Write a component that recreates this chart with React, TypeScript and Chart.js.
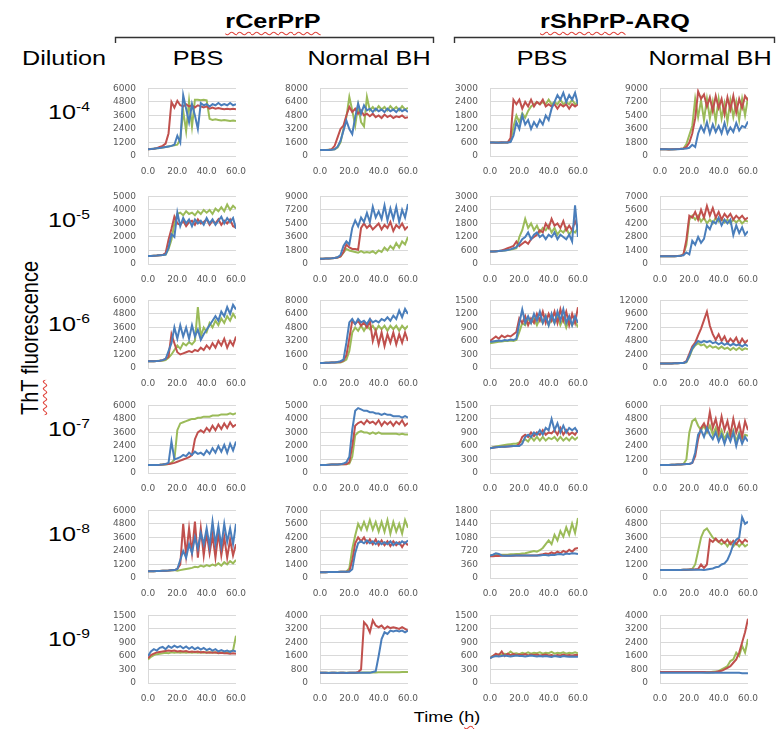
import React, { useEffect, useRef } from "react";
import { Chart, registerables } from "chart.js";
Chart.register(...registerables);

// ---------------- data ----------------
const times = [0, 2, 4, 6, 8, 10, 12, 14, 16, 18, 20, 22, 24, 26, 28, 30, 32, 34, 36, 38, 40, 42, 44, 46, 48, 50, 52, 54, 56, 58, 60];
const xTicks = [0, 20, 40, 60];
const proteins = ["rCerPrP", "rShPrP-ARQ"];
const treatments = ["PBS", "Normal BH", "PBS", "Normal BH"];
const dilutionExponents = ["-4", "-5", "-6", "-7", "-8", "-9"];
const yAxisTitle = "ThT fluorescence";
const xAxisTitle = "Time (h)";

// y-axis maxima (ticks every max/5), per dilution row, columns: CerPBS, CerBH, ShPBS, ShBH
const yMaxRow4 = [6000, 8000, 3000, 9000];
const yMaxRow5 = [5000, 9000, 3000, 7000];
const yMaxRow6 = [6000, 8000, 1500, 12000];
const yMaxRow7 = [6000, 5000, 1500, 6000];
const yMaxRow8 = [6000, 7000, 1800, 6000];
const yMaxRow9 = [1500, 4000, 1500, 4000];

// 10^-4
const r1c1Blue = [600,620,650,680,700,750,800,850,900,1000,1800,1200,5400,4200,3000,4600,3600,2400,4700,4500,4600,4400,4600,4500,4700,4500,4600,4500,4700,4500,4600];
const r1c1Red = [600,620,650,700,800,900,1100,2000,4800,4300,4900,4500,4400,4600,4400,4500,4300,4500,4400,4300,4400,4200,4300,4200,4250,4200,4150,4200,4150,4200,4150];
const r1c1Green = [600,620,650,680,700,750,800,850,900,950,1000,1500,4000,2200,4900,2600,5000,5000,4950,5000,4950,3300,3200,3250,3200,3150,3200,3150,3100,3150,3100];
const r1c2Blue = [700,700,700,720,750,800,1100,1800,3000,4200,3200,2600,4600,6200,5000,6000,5400,5600,5200,5600,5300,5500,5200,5600,5300,5500,5200,5600,5300,5500,5200];
const r1c2Red = [700,700,720,750,800,1200,2200,3200,3600,4800,5800,5200,5600,5000,5400,4800,5000,4700,5000,4600,4800,4500,4900,4600,4800,4500,4700,4600,4800,4500,4600];
const r1c2Green = [700,700,720,740,760,800,1000,1600,3200,4600,7000,5400,3600,6000,4000,3500,7000,5400,5800,5400,5900,5500,5800,5400,5900,5500,5800,5400,5900,5500,5700];
const r1c3Blue = [600,600,600,590,600,600,600,620,900,1500,1200,1800,1400,1600,1200,1500,1300,1600,1400,1800,1600,2100,2400,2700,2500,2800,2400,2700,2500,2800,2300];
const r1c3Red = [600,600,590,600,610,600,600,800,2500,2300,2500,2100,2400,2200,2500,2200,2400,2300,2500,2200,2300,2200,2300,2100,2300,2200,2300,2100,2300,2200,2300];
const r1c3Green = [600,600,600,600,590,600,600,650,1300,1800,1500,1900,1700,2000,2200,2300,2400,2300,2400,2300,2500,2300,2400,2300,2500,2300,2400,2300,2500,2300,2400];
const r1c4Blue = [900,900,900,900,880,900,900,920,950,1000,1100,1500,1200,3000,4000,3200,4500,3000,4200,3200,4000,3000,4400,3000,3800,3200,4400,3400,4000,3800,4600];
const r1c4Red = [900,900,900,880,900,900,920,950,1000,1200,1800,3000,5000,8600,7600,8200,6600,7800,6000,8000,6400,7600,5600,7800,6200,8000,5800,7600,6400,8000,7400];
const r1c4Green = [900,900,900,880,900,900,920,950,1000,1600,2800,4000,7600,5200,7400,4800,7600,5000,7200,4600,7600,5000,7000,4600,7400,5200,7200,4800,7600,5400,7800];

// 10^-5
const r2c1Blue = [600,600,610,620,640,660,700,1200,2200,2000,3800,2800,3400,3000,3300,2800,3300,3000,3200,2900,3400,3000,3300,2900,3200,3500,3000,3400,3100,3400,2600];
const r2c1Red = [600,600,610,620,640,660,800,1800,2600,3500,3000,2900,3200,2800,3100,3200,2900,3300,3000,3100,3300,2900,3200,3000,3300,2900,3200,3000,3300,2800,2700];
const r2c1Green = [600,600,610,620,640,660,700,1100,1800,3000,3700,3800,3600,3900,3700,3800,3600,3900,3700,4000,3800,4000,3700,4100,3900,4200,3900,4400,4000,4300,4100];
const r2c2Blue = [700,700,720,740,760,800,900,1200,2400,3000,2600,4800,5800,5000,6200,5600,6800,5600,7600,6200,7000,6000,7800,5800,7400,6000,7600,5600,7200,6200,8000];
const r2c2Red = [700,700,720,740,760,800,850,1000,1600,2600,2200,2000,2000,1900,4800,5400,4800,5200,4600,5000,5400,4600,5200,4800,5600,4400,5200,4800,5400,4600,5000];
const r2c2Green = [700,700,720,740,760,800,850,1000,1500,2000,1800,1700,1600,1500,1700,1500,1600,1500,1700,1400,1800,1600,2200,1800,2400,2000,2800,2200,3000,2600,3600];
const r2c3Blue = [550,560,560,580,590,600,620,650,700,750,900,1100,1200,1400,1100,1300,1400,1200,1300,1100,1300,1200,1400,1100,1300,1200,1100,1300,1000,2600,1200];
const r2c3Red = [550,560,570,580,600,650,700,750,800,1000,800,900,1000,900,1100,1200,1300,1500,1400,1800,1600,2000,1700,1800,1600,1900,1500,1700,1500,1900,1600];
const r2c3Green = [550,560,570,580,590,600,620,640,660,700,1200,1500,2000,1600,1800,1500,1700,1400,1600,1500,1700,1400,1600,1300,1500,1400,1600,1300,1500,1400,1600];
const r2c4Blue = [800,800,800,790,800,810,820,850,900,1200,1000,2400,2000,2800,2200,2600,4000,3600,4400,4200,4800,4000,4600,4200,4600,3000,4000,3200,3800,3000,3400];
const r2c4Red = [800,800,800,790,800,810,820,850,1000,2500,5000,4800,5400,4600,5600,4800,6000,5000,5800,4800,5400,4600,5200,4800,5200,4600,5000,4700,5000,4600,4800];
const r2c4Green = [800,800,800,790,800,810,820,850,1000,2000,4600,5000,4600,5000,4400,4800,4200,4600,4200,4800,4400,4700,4300,4600,4200,4600,4300,4600,4200,4500,4400];

// 10^-6
const r3c1Blue = [600,600,610,620,640,700,800,1500,2200,3600,2600,3800,2800,3600,2600,3800,2800,3400,2500,3000,3400,3800,4200,4600,4200,5000,4600,5400,4800,5600,5200];
const r3c1Red = [600,600,610,620,640,700,800,1000,3000,2200,1400,1200,1300,1400,1500,1400,1600,1500,1800,1600,2000,1700,2200,1800,2400,2000,2600,1800,2400,2000,2800];
const r3c1Green = [600,600,610,620,640,650,700,900,1200,1600,2000,1700,2200,2000,2300,2100,2400,5400,2800,3600,3200,4000,3600,4200,3800,4400,4000,4600,4200,4800,4400];
const r3c2Blue = [600,600,610,620,640,660,700,800,1000,3000,5400,5800,5200,5800,5400,5600,5200,5800,5400,5600,5400,5800,5600,6000,5600,6200,5800,6800,6000,7000,6400];
const r3c2Red = [600,600,610,620,640,660,680,700,900,1500,3500,5600,5200,5600,5000,5400,4800,5600,3200,4400,2800,4200,2600,4000,3000,4200,2800,4000,3000,4200,3200];
const r3c2Green = [600,600,610,620,640,650,660,650,800,1000,2000,4200,4800,4400,5000,4400,5000,4600,5000,4400,5000,4600,5000,4400,5000,4600,5000,4400,5000,4600,5000];
const r3c3Blue = [580,590,600,610,600,620,610,630,620,650,1000,1300,1000,1150,1000,1200,1050,1250,1000,1150,950,1200,1000,1250,1050,1300,1000,1150,950,1150,1000];
const r3c3Red = [600,650,700,650,720,680,720,700,750,800,1100,1000,1150,950,1100,1000,1200,1050,1250,1000,1200,1050,1250,1000,1300,1050,1250,950,1200,1000,1350];
const r3c3Green = [550,560,570,580,590,600,600,610,600,620,800,1000,950,1100,1000,1100,950,1100,1000,1150,950,1100,1000,1150,950,1100,900,1100,950,1050,900];
const r3c4Blue = [800,800,800,810,820,830,850,870,900,1100,2200,3500,4200,4800,4500,4800,4600,4800,4400,4600,4200,4500,4100,4400,4000,4300,4000,4200,3800,4200,3900];
const r3c4Red = [800,800,800,810,820,830,850,870,900,1200,2500,3800,4500,5800,7000,8500,10000,7500,6000,5000,6000,4800,5600,4400,5200,4600,5400,4200,5200,4400,5000];
const r3c4Green = [800,800,800,810,820,830,850,870,900,1000,2000,3300,4000,4400,4000,4200,3600,4000,3600,3800,3400,3800,3400,3600,3200,3600,3200,3600,3200,3500,3300];

// 10^-7
const r4c1Blue = [700,700,710,720,730,750,800,900,2800,1200,1300,1400,1600,1500,1800,1600,1900,1700,1800,1600,2000,1700,2200,1800,2400,1900,2500,1800,2600,2000,2800];
const r4c1Red = [700,700,710,720,730,750,780,800,850,900,1000,1100,1200,1300,1400,1600,3000,3600,3800,3600,4000,3700,4200,3800,4300,3900,4400,4000,4500,4100,4300];
const r4c1Green = [700,700,710,720,730,750,750,800,900,1200,3800,4400,4500,4600,4700,4800,4800,4900,4900,5000,5000,5000,5100,5100,5100,5200,5200,5200,5300,5200,5300];
const r4c2Blue = [600,600,600,610,620,620,630,640,700,800,1200,3200,4600,4800,4700,4600,4600,4500,4500,4400,4400,4300,4400,4300,4300,4200,4200,4200,4100,4200,4100];
const r4c2Red = [600,600,600,610,620,620,630,640,650,650,800,2000,3500,3700,3800,3600,3900,3700,3800,3600,3900,3500,3800,3600,3800,3500,3800,3600,3900,3500,3700];
const r4c2Green = [600,600,600,610,620,620,630,640,650,660,700,1200,2800,3000,3100,3000,3000,2900,3000,2900,3000,2900,2900,2900,2900,2900,2900,2850,2900,2850,2850];
const r4c3Blue = [550,560,570,575,580,585,590,595,600,600,600,650,800,850,800,900,850,950,850,1000,950,1200,950,1100,900,1050,900,1000,950,1000,900];
const r4c3Red = [550,560,570,575,580,585,590,595,600,600,650,800,850,800,900,820,900,850,950,850,900,880,950,850,1000,850,950,850,900,850,950];
const r4c3Green = [550,570,590,600,610,620,630,640,650,650,680,700,750,700,800,720,800,720,800,720,780,750,800,720,800,720,780,720,800,740,800];
const r4c4Blue = [700,700,710,720,730,740,750,760,780,800,800,900,1800,3400,3800,3200,4000,3400,3000,3600,2800,3400,2600,3400,2800,3600,2400,3400,2600,3200,2800];
const r4c4Red = [700,700,710,720,730,740,750,760,780,800,800,900,1500,3000,4000,4400,3800,5400,4000,4800,3600,5000,3800,4600,3400,4800,3600,4400,3200,4600,3800];
const r4c4Green = [700,700,710,720,730,740,750,760,800,1200,3600,4600,4800,4200,3800,4200,3600,4200,3400,4000,3200,3800,3000,3600,3200,3800,2800,3600,3000,3400,3300];

// 10^-8
const r5c1Blue = [600,600,610,620,630,640,650,660,680,700,800,1600,2400,1800,3000,2200,3600,2600,4000,3000,4400,2800,5000,3000,4600,2800,4800,3200,4400,3000,4800];
const r5c1Red = [600,600,610,620,630,640,650,660,680,700,800,1200,4800,2000,4400,2200,5000,1800,4400,2000,4000,2200,3800,1800,4000,2000,3600,1800,3400,2000,3000];
const r5c1Green = [600,600,610,620,630,640,650,660,680,700,650,700,750,800,850,900,1000,950,1100,1000,1150,1050,1200,1100,1300,1100,1400,1200,1500,1300,1600];
const r5c2Blue = [600,600,600,610,620,620,630,640,650,650,650,900,2600,3600,3800,3600,3900,3600,3800,3500,3800,3500,3700,3500,3800,3400,3700,3500,3800,3600,3900];
const r5c2Red = [600,600,600,610,620,620,630,640,650,650,700,1800,3600,4200,3800,4200,3600,4000,3500,4000,3400,3900,3400,3800,3300,3800,3400,3700,3200,3700,3400];
const r5c2Green = [600,600,600,610,620,620,630,640,650,650,1000,3000,4400,5600,5000,5800,5000,6000,5000,5800,4800,5800,4800,6000,4600,5800,4800,5600,4600,6000,5200];
const r5c3Blue = [600,620,660,640,600,590,590,595,600,600,600,600,600,600,600,600,600,600,610,610,600,620,610,630,640,620,650,640,660,650,640];
const r5c3Red = [580,580,585,585,590,590,590,595,595,600,600,600,600,600,600,600,600,620,630,650,640,680,650,700,660,720,680,750,700,780,800];
const r5c3Green = [600,600,610,610,620,620,620,630,630,640,640,650,660,680,700,720,700,740,800,900,1000,900,1150,1000,1250,1100,1350,1150,1450,1200,1600];
const r5c4Blue = [700,700,700,700,710,710,720,720,730,730,730,730,730,730,730,700,750,800,850,950,1000,1200,1300,1600,2200,3000,3400,3600,5400,4800,5000];
const r5c4Red = [700,700,700,700,710,710,720,720,730,740,750,760,770,800,1200,900,1200,3400,3200,3500,3200,3400,3100,3400,3000,3300,3000,3400,3100,3400,3200];
const r5c4Green = [700,700,700,700,710,710,720,720,730,740,750,800,1200,2400,3600,4200,4400,4000,3600,3400,3200,3000,3200,2800,3200,2800,3100,2800,3100,2800,3000];

// 10^-9
const r6c1Blue = [600,700,750,720,780,800,750,820,780,830,790,820,770,810,760,800,750,790,740,780,730,760,720,750,700,730,700,720,690,720,700];
const r6c1Red = [550,620,650,680,690,700,710,720,710,720,700,710,700,710,690,700,690,700,680,690,670,680,670,680,660,670,660,660,650,660,650];
const r6c1Green = [520,580,620,640,650,660,670,660,680,670,680,670,680,670,680,670,680,670,680,670,680,670,680,670,680,670,680,670,700,720,1050];
const r6c2Blue = [600,600,600,590,600,600,590,600,600,590,600,600,600,600,600,600,600,600,650,700,1600,2600,3000,2900,3100,3050,3100,3050,3100,3000,3100];
const r6c2Red = [600,600,600,590,600,600,590,600,600,590,600,600,600,650,800,3600,3400,3000,3700,3400,3300,3400,3200,3350,3250,3300,3250,3200,3300,3200,3100];
const r6c2Green = [600,600,600,600,600,600,600,600,600,610,610,610,610,610,620,620,620,620,620,620,630,630,630,630,640,640,640,640,650,650,650];
const r6c3Blue = [550,580,600,590,600,610,600,590,600,610,600,600,590,600,610,600,590,600,590,600,590,580,600,590,580,600,590,580,590,580,580];
const r6c3Red = [550,600,650,620,700,600,650,620,640,620,630,620,640,610,630,620,630,610,620,630,610,620,600,620,610,630,610,620,610,620,620];
const r6c3Green = [550,600,620,640,630,650,640,700,650,660,640,670,650,680,650,670,660,680,650,670,660,690,650,670,660,680,650,670,660,680,660];
const r6c4Blue = [600,600,600,600,600,600,600,600,600,600,600,600,600,600,600,600,600,600,600,600,600,600,600,600,600,600,600,600,580,580,580];
const r6c4Red = [650,650,650,650,650,650,650,650,650,650,650,650,650,650,650,650,640,640,640,650,700,720,800,900,1000,1200,1400,1800,2400,3000,3800];
const r6c4Green = [650,650,650,650,650,650,650,650,650,650,650,650,650,650,650,640,640,640,660,680,700,800,900,1000,1300,1400,1800,1600,2200,1800,2600];

// tables built from the arrays above
const yMaxByRow = [yMaxRow4, yMaxRow5, yMaxRow6, yMaxRow7, yMaxRow8, yMaxRow9];
const panelSeries = [
  [[r1c1Blue, r1c1Red, r1c1Green], [r1c2Blue, r1c2Red, r1c2Green], [r1c3Blue, r1c3Red, r1c3Green], [r1c4Blue, r1c4Red, r1c4Green]],
  [[r2c1Blue, r2c1Red, r2c1Green], [r2c2Blue, r2c2Red, r2c2Green], [r2c3Blue, r2c3Red, r2c3Green], [r2c4Blue, r2c4Red, r2c4Green]],
  [[r3c1Blue, r3c1Red, r3c1Green], [r3c2Blue, r3c2Red, r3c2Green], [r3c3Blue, r3c3Red, r3c3Green], [r3c4Blue, r3c4Red, r3c4Green]],
  [[r4c1Blue, r4c1Red, r4c1Green], [r4c2Blue, r4c2Red, r4c2Green], [r4c3Blue, r4c3Red, r4c3Green], [r4c4Blue, r4c4Red, r4c4Green]],
  [[r5c1Blue, r5c1Red, r5c1Green], [r5c2Blue, r5c2Red, r5c2Green], [r5c3Blue, r5c3Red, r5c3Green], [r5c4Blue, r5c4Red, r5c4Green]],
  [[r6c1Blue, r6c1Red, r6c1Green], [r6c2Blue, r6c2Red, r6c2Green], [r6c3Blue, r6c3Red, r6c3Green], [r6c4Blue, r6c4Red, r6c4Green]],
];

// ---------------- layout & style ----------------
const SERIES_COLORS = ["#4A7EBB", "#C0504D", "#9BBB59"];
const GRID = "#D9D9D9";
const TICK_COLOR = "#595959";
const TICK_FONT = { family: "'DejaVu Sans', sans-serif", size: 9 };
const COL_LEFT = [148, 320, 490, 660];
const ROW_TOP = [79, 187, 291, 396, 501, 606];
const PLOT_W = 94;
const PLOT_H = 77;
const Y_AXIS_W = 40;
const PAD_TOP = 8;
const PAD_RIGHT = 14;
const X_AXIS_H = 24;
const TEXT_FONT = "'Liberation Sans', Arial, sans-serif";
const STRETCH = 1.2;
const SQUIGGLE: React.CSSProperties = {
  textDecorationLine: "underline",
  textDecorationStyle: "wavy",
  textDecorationColor: "#E0443C",
  textDecorationThickness: "1px",
  textUnderlineOffset: "3px",
};

function Panel({ row, col }: { row: number; col: number }) {
  const ref = useRef<HTMLCanvasElement>(null);
  const yMax = yMaxByRow[row][col];
  const series = panelSeries[row][col];
  const W = Y_AXIS_W + PLOT_W + PAD_RIGHT;
  const H = PAD_TOP + PLOT_H + X_AXIS_H;
  useEffect(() => {
    const chart = new Chart(ref.current as HTMLCanvasElement, {
      type: "line",
      data: {
        datasets: series.map((vals, k) => ({
          data: vals.map((v, i) => ({ x: times[i], y: v })),
          borderColor: SERIES_COLORS[k],
          backgroundColor: SERIES_COLORS[k],
          borderWidth: 2,
          pointRadius: 0,
          tension: 0,
          fill: false,
        })),
      },
      options: {
        responsive: false,
        animation: false,
        events: [],
        layout: { padding: { top: PAD_TOP, right: PAD_RIGHT, left: 0, bottom: 0 } },
        plugins: { legend: { display: false }, tooltip: { enabled: false }, title: { display: false } },
        scales: {
          x: {
            type: "linear",
            min: 0,
            max: 60,
            afterBuildTicks: (s: any) => {
              s.ticks = xTicks.map((v) => ({ value: v }));
            },
            afterFit: (s: any) => {
              s.height = X_AXIS_H;
            },
            grid: { display: false, drawTicks: false },
            border: { display: true, color: GRID, width: 1 },
            ticks: {
              maxRotation: 0,
              minRotation: 0,
              autoSkip: false,
              padding: 10,
              color: TICK_COLOR,
              font: TICK_FONT,
              callback: (v: any) => Number(v).toFixed(1),
            },
          },
          y: {
            type: "linear",
            min: 0,
            max: yMax,
            afterBuildTicks: (s: any) => {
              s.ticks = [0, 1, 2, 3, 4, 5].map((k) => ({ value: (yMax * k) / 5 }));
            },
            afterFit: (s: any) => {
              s.width = Y_AXIS_W;
            },
            grid: { color: GRID, lineWidth: 1, drawTicks: false },
            border: { display: true, color: GRID, width: 1 },
            ticks: {
              padding: 12,
              color: TICK_COLOR,
              font: TICK_FONT,
              autoSkip: false,
              callback: (v: any) => String(Math.round(Number(v))),
            },
          },
        },
      },
    } as any);
    return () => chart.destroy();
  }, []);
  return (
    <canvas
      ref={ref}
      width={W}
      height={H}
      style={{
        position: "absolute",
        left: COL_LEFT[col] - Y_AXIS_W,
        top: ROW_TOP[row] - PAD_TOP,
        width: W,
        height: H,
      }}
    />
  );
}

function Txt({
  x,
  baseline,
  size,
  bold,
  children,
}: {
  x: number;
  baseline: number;
  size: number;
  bold?: boolean;
  children: React.ReactNode;
}) {
  return (
    <div
      style={{
        position: "absolute",
        left: x,
        top: baseline - 0.8465 * size,
        fontFamily: TEXT_FONT,
        fontSize: size,
        lineHeight: `${size}px`,
        fontWeight: bold ? 700 : 400,
        whiteSpace: "nowrap",
        color: "#000",
        transform: `translateX(-50%) scaleX(${STRETCH})`,
      }}
    >
      {children}
    </div>
  );
}

export default function App() {
  const headerBaseline = 28;
  const subBaseline = 65;
  const treatmentCenters = [198, 369, 542, 710];
  const [timeWord, timeUnit] = xAxisTitle.split(" ");
  return (
    <div
      style={{
        position: "absolute",
        left: 0,
        top: 0,
        width: 777,
        height: 729,
        background: "#fff",
        overflow: "hidden",
      }}
    >
      <svg width={777} height={729} style={{ position: "absolute", left: 0, top: 0 }}>
        <path d="M115.5 43 V37.5 H433.5 V43" fill="none" stroke="#333" strokeWidth={1.4} />
        <path d="M454.5 43 V37.5 H774.5 V43" fill="none" stroke="#333" strokeWidth={1.4} />
      </svg>

      <Txt x={273} baseline={headerBaseline} size={21} bold>
        <span style={SQUIGGLE}>{proteins[0]}</span>
      </Txt>
      <Txt x={615} baseline={headerBaseline} size={21} bold>
        <span style={SQUIGGLE}>{proteins[1].split("-")[0]}</span>-{proteins[1].split("-")[1]}
      </Txt>

      <Txt x={64} baseline={subBaseline} size={21}>
        Dilution
      </Txt>
      {treatments.map((t, i) => (
        <Txt key={i} x={treatmentCenters[i]} baseline={subBaseline} size={21}>
          {t}
        </Txt>
      ))}

      {dilutionExponents.map((e, r) => {
        const baseline = ROW_TOP[r] + PLOT_H / 2 + 1;
        const size = 21;
        return (
          <div
            key={r}
            style={{
              position: "absolute",
              left: 48,
              top: baseline - 0.8465 * size,
              fontFamily: TEXT_FONT,
              fontSize: size,
              lineHeight: `${size}px`,
              whiteSpace: "nowrap",
              transform: `scaleX(${STRETCH})`,
              transformOrigin: "0 0",
            }}
          >
            10
            <span style={{ fontSize: 13, position: "relative", top: -8 }}>{e}</span>
          </div>
        );
      })}

      <div style={{ position: "absolute", left: 30, top: 338, width: 0, height: 0, transform: `scaleX(${STRETCH})`, transformOrigin: "0 0" }}>
        <div
          style={{
            position: "absolute",
            left: 0,
            top: 0,
            fontFamily: TEXT_FONT,
            fontSize: 20,
            lineHeight: "20px",
            whiteSpace: "nowrap",
            transform: "translate(-50%, -50%) rotate(-90deg)",
          }}
        >
          <span style={SQUIGGLE}>{yAxisTitle.split(" ")[0]}</span> {yAxisTitle.split(" ")[1]}
        </div>
      </div>

      <Txt x={447} baseline={722} size={15}>
        {timeWord} {timeUnit[0]}
        <span style={SQUIGGLE}>{timeUnit.slice(1, -1)}</span>
        {timeUnit.slice(-1)}
      </Txt>

      {ROW_TOP.map((_, r) => COL_LEFT.map((__, c) => <Panel key={`${r}-${c}`} row={r} col={c} />))}
    </div>
  );
}
